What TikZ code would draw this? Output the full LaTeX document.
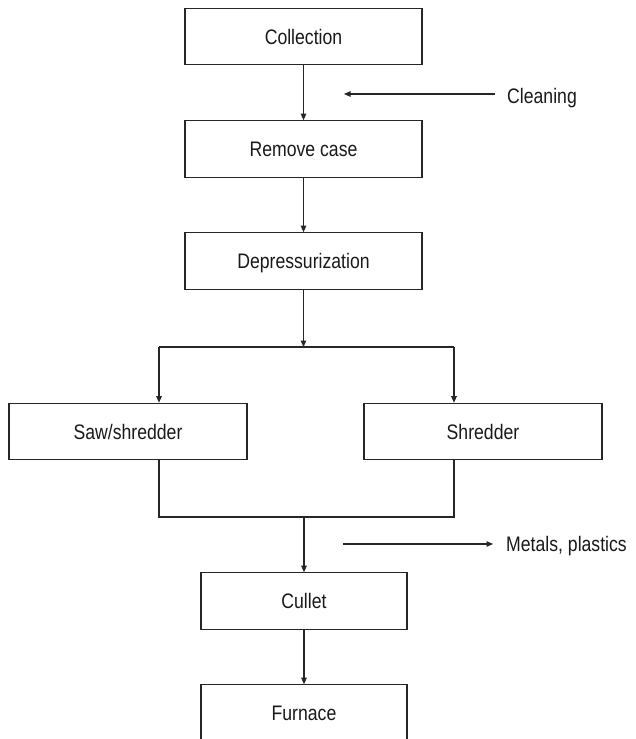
\documentclass[tikz,border=0pt]{standalone}
\usepackage{fontspec}
\setmainfont{Liberation Sans}[FakeStretch=0.84]
\usetikzlibrary{arrows.meta,calc}
\begin{document}
\begin{tikzpicture}[x=1pt,y=-1pt,
  txt/.style={font=\fontsize{21}{25}\selectfont, text=black!90},
  box/.style={draw=black!85, line width=1.1pt, txt, minimum height=56.5pt,
    inner sep=0pt, text height=15pt, text depth=0pt},
  lbl/.style={txt, anchor=base west, inner sep=0pt},
  conn/.style={draw=black!85, line width=1.1pt},
  arr/.style={conn, -{Triangle[length=6.5pt,width=5.5pt]}}]
\clip (0,0) rectangle (636,739);
\useasboundingbox (0,0) rectangle (636,739);

\node[box, minimum width=237pt] (coll) at (303.5,36.5) {Collection};
\node[box, minimum width=237pt] (rem)  at (303.5,149) {Remove case};
\node[box, minimum width=237pt] (dep)  at (303.5,261) {Depressurization};
\node[box, minimum width=238pt] (saw)  at (128,431.5) {Saw/shredder};
\node[box, minimum width=238pt] (shr)  at (483,431.5) {Shredder};
\node[box, minimum width=206pt] (cul)  at (304,601) {Cullet};
\node[box, minimum width=206pt] (fur)  at (304,713) {Furnace};

\node[lbl] (clean) at (507,103) {Cleaning};
\node[lbl] (metal) at (506,551.5) {Metals, plastics};

\coordinate (c1) at (495,94);
\coordinate (c2) at (344,94);
\coordinate (m1) at (343,544);
\coordinate (m2) at (493,544);
\coordinate (j)  at (303.5,347);
\coordinate (jl) at (159,347);
\coordinate (jr) at (454,347);
\coordinate (bl) at (159,517);
\coordinate (br) at (454,517);
\coordinate (bm) at (304,517);

\draw[arr] (coll.south) -- (rem.north);
\draw[arr] (rem.south) -- (dep.north);
\draw[arr] (dep.south) -- (j);
\draw[conn] (jl) -- (jr);
\draw[arr] (jl) -- (jl |- saw.north);
\draw[arr] (jr) -- (jr |- shr.north);
\draw[conn] (bl |- saw.south) -- (bl) -- (br) -- (br |- shr.south);
\draw[arr] (bm) -- (cul.north);
\draw[arr] (cul.south) -- (fur.north);
\draw[arr] (c1) -- (c2);
\draw[arr] (m1) -- (m2);
\end{tikzpicture}
\end{document}
